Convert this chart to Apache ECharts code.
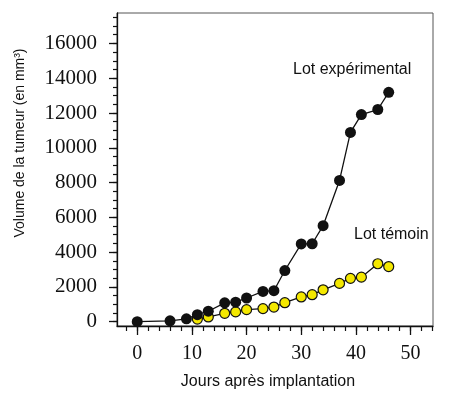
<!DOCTYPE html>
<html>
<head>
<meta charset="utf-8">
<script src="https://cdn.jsdelivr.net/npm/echarts@6/dist/echarts.min.js"></script>
<style>html,body{margin:0;padding:0;background:#fff}#c{width:450px;height:396px}</style>
</head>
<body>
<div id="c"></div>
<script>
// Data
var expDays = [0, 6, 9, 11, 13, 16, 18, 20, 23, 25, 27, 30, 32, 34, 37, 39, 41, 44, 46];
var expVolume = [0, 50, 160, 400, 600, 1080, 1120, 1360, 1740, 1780, 2940, 4470, 4480, 5520, 8120, 10880, 11910, 12200, 13190];
var ctrlDays = [11, 13, 16, 18, 20, 23, 25, 27, 30, 32, 34, 37, 39, 41, 44, 46];
var ctrlVolume = [150, 270, 480, 560, 690, 750, 840, 1090, 1420, 1550, 1830, 2200, 2490, 2560, 3330, 3170];
var xMajorTicks = [0, 10, 20, 30, 40, 50];
var xMinorTicks = [-2, 0, 2, 4, 6, 8, 10, 12, 14, 16, 18, 20, 22, 24, 26, 28, 30, 32, 34, 36, 38, 40, 42, 44, 46, 48, 50, 52, 54];
var yMajorTicks = [0, 2000, 4000, 6000, 8000, 10000, 12000, 14000, 16000];
var yMinorTicks = [];
for (var v = 0; v <= 17500; v += 500) yMinorTicks.push(v);
var xTitle = 'Jours après implantation';
var yTitle = 'Volume de la tumeur (en mm³)';
var expName = 'Lot expérimental';
var ctrlName = 'Lot témoin';

function pairs(xs, ys) { return xs.map(function (x, i) { return [x, ys[i]]; }); }

var X_MIN = -3.7, X_MAX = 54.1, Y_MIN = -250, Y_MAX = 17750;
var serif = '"Liberation Serif", "Times New Roman", serif';
var sans = '"Liberation Sans", Arial, sans-serif';

var chart = echarts.init(document.getElementById('c'), null, {renderer: 'canvas'});
chart.setOption({
  animation: false,
  backgroundColor: '#fff',
  grid: {left: 117, right: 17, top: 13, bottom: 70, show: true, borderColor: '#555', borderWidth: 1, containLabel: false},
  xAxis: [
    {type: 'value', min: X_MIN, max: X_MAX, position: 'bottom',
     axisLine: {show: true, onZero: false, lineStyle: {color: '#111', width: 1.3}},
     axisTick: {show: true, inside: false, length: 9, customValues: xMajorTicks, lineStyle: {color: '#111', width: 1.3}},
     axisLabel: {show: true, customValues: xMajorTicks, margin: 18, fontFamily: serif, fontSize: 20, color: '#111',
                 formatter: function (v) { return String(v); }},
     splitLine: {show: false}},
    {type: 'value', min: X_MIN, max: X_MAX, position: 'bottom',
     axisLine: {show: false, onZero: false},
     axisTick: {show: true, inside: false, length: 5, customValues: xMinorTicks, lineStyle: {color: '#111', width: 1.2}},
     axisLabel: {show: false}, splitLine: {show: false}}
  ],
  yAxis: [
    {type: 'value', min: Y_MIN, max: Y_MAX, position: 'left',
     axisLine: {show: true, onZero: false, lineStyle: {color: '#111', width: 1.3}},
     axisTick: {show: true, inside: false, length: 8, customValues: yMajorTicks, lineStyle: {color: '#111', width: 1.3}},
     axisLabel: {show: true, customValues: yMajorTicks, margin: 20, fontFamily: serif, fontSize: 21, color: '#111',
                 formatter: function (v) { return String(v); }},
     splitLine: {show: false}},
    {type: 'value', min: Y_MIN, max: Y_MAX, position: 'left',
     axisLine: {show: false, onZero: false},
     axisTick: {show: true, inside: false, length: 4, customValues: yMinorTicks, lineStyle: {color: '#111', width: 1.2}},
     axisLabel: {show: false}, splitLine: {show: false}}
  ],
  series: [
    {name: ctrlName, type: 'line', data: pairs(ctrlDays, ctrlVolume), xAxisIndex: 0, yAxisIndex: 0,
     symbol: 'circle', symbolSize: 10, z: 2,
     lineStyle: {color: '#111', width: 1.3},
     itemStyle: {color: '#f4e800', borderColor: '#111', borderWidth: 1.2}},
    {name: expName, type: 'line', data: pairs(expDays, expVolume), xAxisIndex: 0, yAxisIndex: 0,
     symbol: 'circle', symbolSize: 11, z: 3,
     lineStyle: {color: '#111', width: 1.3},
     itemStyle: {color: '#111', borderColor: '#111', borderWidth: 0}}
  ],
  graphic: [
    {type: 'text', left: 293, top: 62, style: {text: expName, font: '16px ' + sans, fill: '#111'}},
    {type: 'text', left: 354, top: 227, style: {text: ctrlName, font: '16px ' + sans, fill: '#111'}},
    {type: 'text', x: 268, y: 382, style: {text: xTitle, font: '16px ' + sans, fill: '#111', align: 'center', verticalAlign: 'middle'}},
    {type: 'text', x: 20, y: 143, rotation: Math.PI / 2, style: {text: yTitle, font: '14px ' + sans, fill: '#111', align: 'center', verticalAlign: 'middle'}}
  ]
});
</script>
</body>
</html>
